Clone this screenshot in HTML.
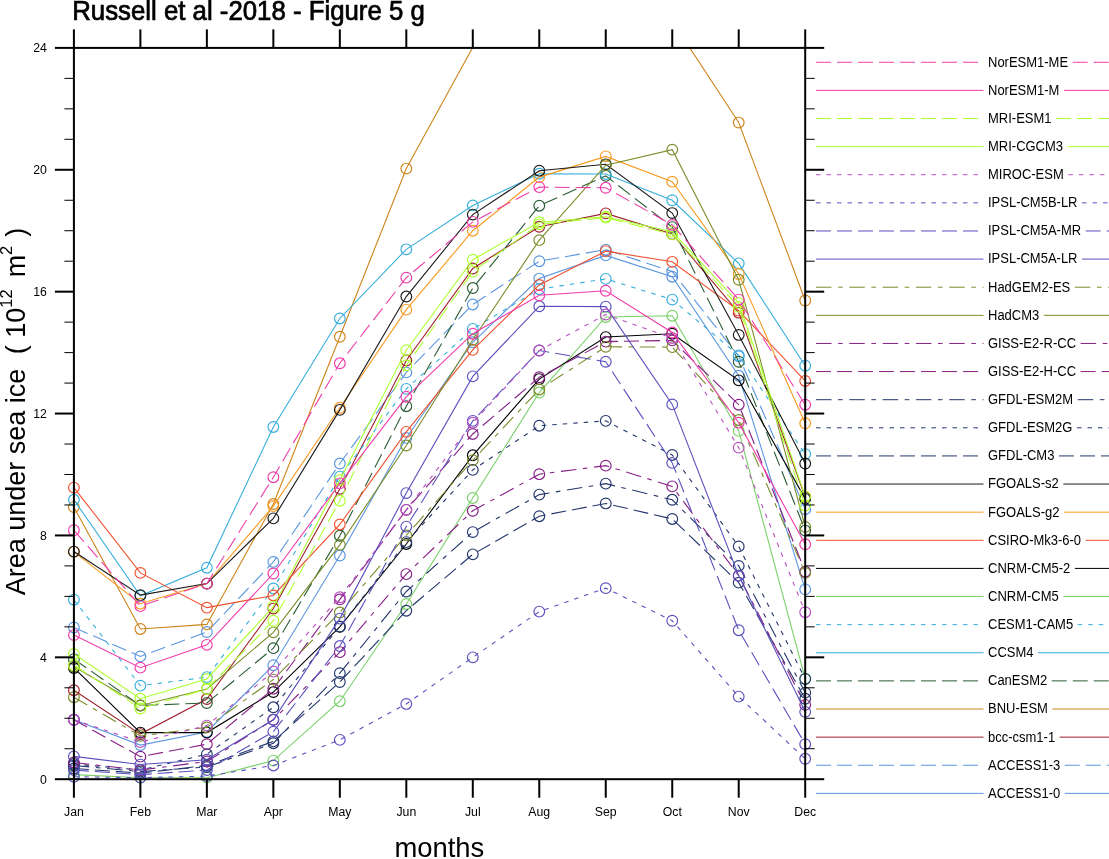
<!DOCTYPE html><html><head><meta charset="utf-8"><style>
html,body{margin:0;padding:0;background:#fff;}
body{width:1109px;height:859px;overflow:hidden;position:relative;font-family:"Liberation Sans",sans-serif;}
svg{position:absolute;left:0;top:0;will-change:transform;}
svg text{font-family:"Liberation Sans",sans-serif;}
</style></head><body>
<svg width="1109" height="859" viewBox="0 0 1109 859">
<defs><clipPath id="pc"><rect x="73.90" y="47.90" width="731.30" height="731.30"/></clipPath></defs>
<g fill="none" stroke-width="1.1" stroke-linejoin="miter">
<polyline clip-path="url(#pc)" points="73.90,719.78 140.38,745.07 206.86,731.97 273.35,665.24 339.83,555.54 406.31,437.93 472.79,342.25 539.27,278.56 605.75,255.41 672.24,276.74 738.72,375.77 805.20,589.37" stroke="#5A96E0"/>
<circle cx="73.90" cy="719.78" r="5.35" stroke-width="1.15" stroke="#5A96E0"/>
<circle cx="140.38" cy="745.07" r="5.35" stroke-width="1.15" stroke="#5A96E0"/>
<circle cx="206.86" cy="731.97" r="5.35" stroke-width="1.15" stroke="#5A96E0"/>
<circle cx="273.35" cy="665.24" r="5.35" stroke-width="1.15" stroke="#5A96E0"/>
<circle cx="339.83" cy="555.54" r="5.35" stroke-width="1.15" stroke="#5A96E0"/>
<circle cx="406.31" cy="437.93" r="5.35" stroke-width="1.15" stroke="#5A96E0"/>
<circle cx="472.79" cy="342.25" r="5.35" stroke-width="1.15" stroke="#5A96E0"/>
<circle cx="539.27" cy="278.56" r="5.35" stroke-width="1.15" stroke="#5A96E0"/>
<circle cx="605.75" cy="255.41" r="5.35" stroke-width="1.15" stroke="#5A96E0"/>
<circle cx="672.24" cy="276.74" r="5.35" stroke-width="1.15" stroke="#5A96E0"/>
<circle cx="738.72" cy="375.77" r="5.35" stroke-width="1.15" stroke="#5A96E0"/>
<circle cx="805.20" cy="589.37" r="5.35" stroke-width="1.15" stroke="#5A96E0"/>
<polyline clip-path="url(#pc)" points="73.90,627.46 140.38,656.40 206.86,632.03 273.35,561.94 339.83,463.52 406.31,372.41 472.79,304.46 539.27,261.20 605.75,249.62 672.24,271.56 738.72,356.26 805.20,509.23" stroke="#5A96E0" stroke-dasharray="15 6"/>
<circle cx="73.90" cy="627.46" r="5.35" stroke-width="1.15" stroke="#5A96E0"/>
<circle cx="140.38" cy="656.40" r="5.35" stroke-width="1.15" stroke="#5A96E0"/>
<circle cx="206.86" cy="632.03" r="5.35" stroke-width="1.15" stroke="#5A96E0"/>
<circle cx="273.35" cy="561.94" r="5.35" stroke-width="1.15" stroke="#5A96E0"/>
<circle cx="339.83" cy="463.52" r="5.35" stroke-width="1.15" stroke="#5A96E0"/>
<circle cx="406.31" cy="372.41" r="5.35" stroke-width="1.15" stroke="#5A96E0"/>
<circle cx="472.79" cy="304.46" r="5.35" stroke-width="1.15" stroke="#5A96E0"/>
<circle cx="539.27" cy="261.20" r="5.35" stroke-width="1.15" stroke="#5A96E0"/>
<circle cx="605.75" cy="249.62" r="5.35" stroke-width="1.15" stroke="#5A96E0"/>
<circle cx="672.24" cy="271.56" r="5.35" stroke-width="1.15" stroke="#5A96E0"/>
<circle cx="738.72" cy="356.26" r="5.35" stroke-width="1.15" stroke="#5A96E0"/>
<circle cx="805.20" cy="509.23" r="5.35" stroke-width="1.15" stroke="#5A96E0"/>
<polyline clip-path="url(#pc)" points="73.90,690.23 140.38,734.10 206.86,699.06 273.35,608.56 339.83,488.81 406.31,360.53 472.79,268.51 539.27,226.76 605.75,213.36 672.24,234.08 738.72,312.69 805.20,497.04" stroke="#A01E2D"/>
<circle cx="73.90" cy="690.23" r="5.35" stroke-width="1.15" stroke="#A01E2D"/>
<circle cx="140.38" cy="734.10" r="5.35" stroke-width="1.15" stroke="#A01E2D"/>
<circle cx="206.86" cy="699.06" r="5.35" stroke-width="1.15" stroke="#A01E2D"/>
<circle cx="273.35" cy="608.56" r="5.35" stroke-width="1.15" stroke="#A01E2D"/>
<circle cx="339.83" cy="488.81" r="5.35" stroke-width="1.15" stroke="#A01E2D"/>
<circle cx="406.31" cy="360.53" r="5.35" stroke-width="1.15" stroke="#A01E2D"/>
<circle cx="472.79" cy="268.51" r="5.35" stroke-width="1.15" stroke="#A01E2D"/>
<circle cx="539.27" cy="226.76" r="5.35" stroke-width="1.15" stroke="#A01E2D"/>
<circle cx="605.75" cy="213.36" r="5.35" stroke-width="1.15" stroke="#A01E2D"/>
<circle cx="672.24" cy="234.08" r="5.35" stroke-width="1.15" stroke="#A01E2D"/>
<circle cx="738.72" cy="312.69" r="5.35" stroke-width="1.15" stroke="#A01E2D"/>
<circle cx="805.20" cy="497.04" r="5.35" stroke-width="1.15" stroke="#A01E2D"/>
<polyline clip-path="url(#pc)" points="73.90,507.10 140.38,628.98 206.86,624.41 273.35,504.05 339.83,336.76 406.31,168.56 472.79,47.29 539.27,-13.04 605.75,-28.28 672.24,21.09 738.72,122.55 805.20,300.50" stroke="#CD841A"/>
<circle cx="73.90" cy="507.10" r="5.35" stroke-width="1.15" stroke="#CD841A"/>
<circle cx="140.38" cy="628.98" r="5.35" stroke-width="1.15" stroke="#CD841A"/>
<circle cx="206.86" cy="624.41" r="5.35" stroke-width="1.15" stroke="#CD841A"/>
<circle cx="273.35" cy="504.05" r="5.35" stroke-width="1.15" stroke="#CD841A"/>
<circle cx="339.83" cy="336.76" r="5.35" stroke-width="1.15" stroke="#CD841A"/>
<circle cx="406.31" cy="168.56" r="5.35" stroke-width="1.15" stroke="#CD841A"/>
<circle cx="738.72" cy="122.55" r="5.35" stroke-width="1.15" stroke="#CD841A"/>
<circle cx="805.20" cy="300.50" r="5.35" stroke-width="1.15" stroke="#CD841A"/>
<polyline clip-path="url(#pc)" points="73.90,659.14 140.38,705.46 206.86,703.02 273.35,648.18 339.83,535.74 406.31,406.24 472.79,288.01 539.27,205.74 605.75,175.88 672.24,227.07 738.72,361.75 805.20,530.56" stroke="#2A5C34" stroke-dasharray="15 6"/>
<circle cx="73.90" cy="659.14" r="5.35" stroke-width="1.15" stroke="#2A5C34"/>
<circle cx="140.38" cy="705.46" r="5.35" stroke-width="1.15" stroke="#2A5C34"/>
<circle cx="206.86" cy="703.02" r="5.35" stroke-width="1.15" stroke="#2A5C34"/>
<circle cx="273.35" cy="648.18" r="5.35" stroke-width="1.15" stroke="#2A5C34"/>
<circle cx="339.83" cy="535.74" r="5.35" stroke-width="1.15" stroke="#2A5C34"/>
<circle cx="406.31" cy="406.24" r="5.35" stroke-width="1.15" stroke="#2A5C34"/>
<circle cx="472.79" cy="288.01" r="5.35" stroke-width="1.15" stroke="#2A5C34"/>
<circle cx="539.27" cy="205.74" r="5.35" stroke-width="1.15" stroke="#2A5C34"/>
<circle cx="605.75" cy="175.88" r="5.35" stroke-width="1.15" stroke="#2A5C34"/>
<circle cx="672.24" cy="227.07" r="5.35" stroke-width="1.15" stroke="#2A5C34"/>
<circle cx="738.72" cy="361.75" r="5.35" stroke-width="1.15" stroke="#2A5C34"/>
<circle cx="805.20" cy="530.56" r="5.35" stroke-width="1.15" stroke="#2A5C34"/>
<polyline clip-path="url(#pc)" points="73.90,499.78 140.38,595.77 206.86,567.73 273.35,426.96 339.83,318.48 406.31,249.31 472.79,205.43 539.27,173.74 605.75,174.05 672.24,200.25 738.72,263.33 805.20,365.71" stroke="#36AEDB"/>
<circle cx="73.90" cy="499.78" r="5.35" stroke-width="1.15" stroke="#36AEDB"/>
<circle cx="140.38" cy="595.77" r="5.35" stroke-width="1.15" stroke="#36AEDB"/>
<circle cx="206.86" cy="567.73" r="5.35" stroke-width="1.15" stroke="#36AEDB"/>
<circle cx="273.35" cy="426.96" r="5.35" stroke-width="1.15" stroke="#36AEDB"/>
<circle cx="339.83" cy="318.48" r="5.35" stroke-width="1.15" stroke="#36AEDB"/>
<circle cx="406.31" cy="249.31" r="5.35" stroke-width="1.15" stroke="#36AEDB"/>
<circle cx="472.79" cy="205.43" r="5.35" stroke-width="1.15" stroke="#36AEDB"/>
<circle cx="539.27" cy="173.74" r="5.35" stroke-width="1.15" stroke="#36AEDB"/>
<circle cx="605.75" cy="174.05" r="5.35" stroke-width="1.15" stroke="#36AEDB"/>
<circle cx="672.24" cy="200.25" r="5.35" stroke-width="1.15" stroke="#36AEDB"/>
<circle cx="738.72" cy="263.33" r="5.35" stroke-width="1.15" stroke="#36AEDB"/>
<circle cx="805.20" cy="365.71" r="5.35" stroke-width="1.15" stroke="#36AEDB"/>
<polyline clip-path="url(#pc)" points="73.90,599.73 140.38,685.65 206.86,677.12 273.35,588.45 339.83,476.62 406.31,388.87 472.79,328.84 539.27,289.23 605.75,278.87 672.24,299.59 738.72,355.35 805.20,454.08" stroke="#36AEDB" stroke-dasharray="4.5 6"/>
<circle cx="73.90" cy="599.73" r="5.35" stroke-width="1.15" stroke="#36AEDB"/>
<circle cx="140.38" cy="685.65" r="5.35" stroke-width="1.15" stroke="#36AEDB"/>
<circle cx="206.86" cy="677.12" r="5.35" stroke-width="1.15" stroke="#36AEDB"/>
<circle cx="273.35" cy="588.45" r="5.35" stroke-width="1.15" stroke="#36AEDB"/>
<circle cx="339.83" cy="476.62" r="5.35" stroke-width="1.15" stroke="#36AEDB"/>
<circle cx="406.31" cy="388.87" r="5.35" stroke-width="1.15" stroke="#36AEDB"/>
<circle cx="472.79" cy="328.84" r="5.35" stroke-width="1.15" stroke="#36AEDB"/>
<circle cx="539.27" cy="289.23" r="5.35" stroke-width="1.15" stroke="#36AEDB"/>
<circle cx="605.75" cy="278.87" r="5.35" stroke-width="1.15" stroke="#36AEDB"/>
<circle cx="672.24" cy="299.59" r="5.35" stroke-width="1.15" stroke="#36AEDB"/>
<circle cx="738.72" cy="355.35" r="5.35" stroke-width="1.15" stroke="#36AEDB"/>
<circle cx="805.20" cy="454.08" r="5.35" stroke-width="1.15" stroke="#36AEDB"/>
<polyline clip-path="url(#pc)" points="73.90,774.63 140.38,777.68 206.86,777.68 273.35,760.61 339.83,701.19 406.31,603.99 472.79,497.95 539.27,392.53 605.75,316.96 672.24,315.74 738.72,430.92 805.20,678.65" stroke="#7AD16A"/>
<circle cx="73.90" cy="774.63" r="5.35" stroke-width="1.15" stroke="#7AD16A"/>
<circle cx="140.38" cy="777.68" r="5.35" stroke-width="1.15" stroke="#7AD16A"/>
<circle cx="206.86" cy="777.68" r="5.35" stroke-width="1.15" stroke="#7AD16A"/>
<circle cx="273.35" cy="760.61" r="5.35" stroke-width="1.15" stroke="#7AD16A"/>
<circle cx="339.83" cy="701.19" r="5.35" stroke-width="1.15" stroke="#7AD16A"/>
<circle cx="406.31" cy="603.99" r="5.35" stroke-width="1.15" stroke="#7AD16A"/>
<circle cx="472.79" cy="497.95" r="5.35" stroke-width="1.15" stroke="#7AD16A"/>
<circle cx="539.27" cy="392.53" r="5.35" stroke-width="1.15" stroke="#7AD16A"/>
<circle cx="605.75" cy="316.96" r="5.35" stroke-width="1.15" stroke="#7AD16A"/>
<circle cx="672.24" cy="315.74" r="5.35" stroke-width="1.15" stroke="#7AD16A"/>
<circle cx="738.72" cy="430.92" r="5.35" stroke-width="1.15" stroke="#7AD16A"/>
<circle cx="805.20" cy="678.65" r="5.35" stroke-width="1.15" stroke="#7AD16A"/>
<polyline clip-path="url(#pc)" points="73.90,667.98 140.38,732.58 206.86,732.58 273.35,692.05 339.83,626.85 406.31,543.97 472.79,455.30 539.27,379.12 605.75,337.07 672.24,333.72 738.72,380.34 805.20,498.87" stroke="#000000"/>
<circle cx="73.90" cy="667.98" r="5.35" stroke-width="1.15" stroke="#000000"/>
<circle cx="140.38" cy="732.58" r="5.35" stroke-width="1.15" stroke="#000000"/>
<circle cx="206.86" cy="732.58" r="5.35" stroke-width="1.15" stroke="#000000"/>
<circle cx="273.35" cy="692.05" r="5.35" stroke-width="1.15" stroke="#000000"/>
<circle cx="339.83" cy="626.85" r="5.35" stroke-width="1.15" stroke="#000000"/>
<circle cx="406.31" cy="543.97" r="5.35" stroke-width="1.15" stroke="#000000"/>
<circle cx="472.79" cy="455.30" r="5.35" stroke-width="1.15" stroke="#000000"/>
<circle cx="539.27" cy="379.12" r="5.35" stroke-width="1.15" stroke="#000000"/>
<circle cx="605.75" cy="337.07" r="5.35" stroke-width="1.15" stroke="#000000"/>
<circle cx="672.24" cy="333.72" r="5.35" stroke-width="1.15" stroke="#000000"/>
<circle cx="738.72" cy="380.34" r="5.35" stroke-width="1.15" stroke="#000000"/>
<circle cx="805.20" cy="498.87" r="5.35" stroke-width="1.15" stroke="#000000"/>
<polyline clip-path="url(#pc)" points="73.90,487.59 140.38,572.91 206.86,607.65 273.35,595.46 339.83,524.46 406.31,431.83 472.79,349.87 539.27,284.96 605.75,251.14 672.24,261.81 738.72,310.56 805.20,380.95" stroke="#F0502D"/>
<circle cx="73.90" cy="487.59" r="5.35" stroke-width="1.15" stroke="#F0502D"/>
<circle cx="140.38" cy="572.91" r="5.35" stroke-width="1.15" stroke="#F0502D"/>
<circle cx="206.86" cy="607.65" r="5.35" stroke-width="1.15" stroke="#F0502D"/>
<circle cx="273.35" cy="595.46" r="5.35" stroke-width="1.15" stroke="#F0502D"/>
<circle cx="339.83" cy="524.46" r="5.35" stroke-width="1.15" stroke="#F0502D"/>
<circle cx="406.31" cy="431.83" r="5.35" stroke-width="1.15" stroke="#F0502D"/>
<circle cx="472.79" cy="349.87" r="5.35" stroke-width="1.15" stroke="#F0502D"/>
<circle cx="539.27" cy="284.96" r="5.35" stroke-width="1.15" stroke="#F0502D"/>
<circle cx="605.75" cy="251.14" r="5.35" stroke-width="1.15" stroke="#F0502D"/>
<circle cx="672.24" cy="261.81" r="5.35" stroke-width="1.15" stroke="#F0502D"/>
<circle cx="738.72" cy="310.56" r="5.35" stroke-width="1.15" stroke="#F0502D"/>
<circle cx="805.20" cy="380.95" r="5.35" stroke-width="1.15" stroke="#F0502D"/>
<polyline clip-path="url(#pc)" points="73.90,551.89 140.38,603.69 206.86,583.58 273.35,506.18 339.83,407.76 406.31,309.64 472.79,230.73 539.27,177.10 605.75,156.38 672.24,181.67 738.72,273.99 805.20,423.30" stroke="#F99A20"/>
<circle cx="73.90" cy="551.89" r="5.35" stroke-width="1.15" stroke="#F99A20"/>
<circle cx="140.38" cy="603.69" r="5.35" stroke-width="1.15" stroke="#F99A20"/>
<circle cx="206.86" cy="583.58" r="5.35" stroke-width="1.15" stroke="#F99A20"/>
<circle cx="273.35" cy="506.18" r="5.35" stroke-width="1.15" stroke="#F99A20"/>
<circle cx="339.83" cy="407.76" r="5.35" stroke-width="1.15" stroke="#F99A20"/>
<circle cx="406.31" cy="309.64" r="5.35" stroke-width="1.15" stroke="#F99A20"/>
<circle cx="472.79" cy="230.73" r="5.35" stroke-width="1.15" stroke="#F99A20"/>
<circle cx="539.27" cy="177.10" r="5.35" stroke-width="1.15" stroke="#F99A20"/>
<circle cx="605.75" cy="156.38" r="5.35" stroke-width="1.15" stroke="#F99A20"/>
<circle cx="672.24" cy="181.67" r="5.35" stroke-width="1.15" stroke="#F99A20"/>
<circle cx="738.72" cy="273.99" r="5.35" stroke-width="1.15" stroke="#F99A20"/>
<circle cx="805.20" cy="423.30" r="5.35" stroke-width="1.15" stroke="#F99A20"/>
<polyline clip-path="url(#pc)" points="73.90,551.58 140.38,595.16 206.86,583.58 273.35,518.37 339.83,409.89 406.31,296.54 472.79,214.58 539.27,170.70 605.75,164.30 672.24,213.05 738.72,334.94 805.20,463.52" stroke="#1A1A1A"/>
<circle cx="73.90" cy="551.58" r="5.35" stroke-width="1.15" stroke="#1A1A1A"/>
<circle cx="140.38" cy="595.16" r="5.35" stroke-width="1.15" stroke="#1A1A1A"/>
<circle cx="206.86" cy="583.58" r="5.35" stroke-width="1.15" stroke="#1A1A1A"/>
<circle cx="273.35" cy="518.37" r="5.35" stroke-width="1.15" stroke="#1A1A1A"/>
<circle cx="339.83" cy="409.89" r="5.35" stroke-width="1.15" stroke="#1A1A1A"/>
<circle cx="406.31" cy="296.54" r="5.35" stroke-width="1.15" stroke="#1A1A1A"/>
<circle cx="472.79" cy="214.58" r="5.35" stroke-width="1.15" stroke="#1A1A1A"/>
<circle cx="539.27" cy="170.70" r="5.35" stroke-width="1.15" stroke="#1A1A1A"/>
<circle cx="605.75" cy="164.30" r="5.35" stroke-width="1.15" stroke="#1A1A1A"/>
<circle cx="672.24" cy="213.05" r="5.35" stroke-width="1.15" stroke="#1A1A1A"/>
<circle cx="738.72" cy="334.94" r="5.35" stroke-width="1.15" stroke="#1A1A1A"/>
<circle cx="805.20" cy="463.52" r="5.35" stroke-width="1.15" stroke="#1A1A1A"/>
<polyline clip-path="url(#pc)" points="73.90,768.54 140.38,773.11 206.86,765.49 273.35,741.42 339.83,682.00 406.31,610.70 472.79,554.33 539.27,516.24 605.75,503.44 672.24,518.98 738.72,582.66 805.20,698.76" stroke="#23366D" stroke-dasharray="15 6"/>
<circle cx="73.90" cy="768.54" r="5.35" stroke-width="1.15" stroke="#23366D"/>
<circle cx="140.38" cy="773.11" r="5.35" stroke-width="1.15" stroke="#23366D"/>
<circle cx="206.86" cy="765.49" r="5.35" stroke-width="1.15" stroke="#23366D"/>
<circle cx="273.35" cy="741.42" r="5.35" stroke-width="1.15" stroke="#23366D"/>
<circle cx="339.83" cy="682.00" r="5.35" stroke-width="1.15" stroke="#23366D"/>
<circle cx="406.31" cy="610.70" r="5.35" stroke-width="1.15" stroke="#23366D"/>
<circle cx="472.79" cy="554.33" r="5.35" stroke-width="1.15" stroke="#23366D"/>
<circle cx="539.27" cy="516.24" r="5.35" stroke-width="1.15" stroke="#23366D"/>
<circle cx="605.75" cy="503.44" r="5.35" stroke-width="1.15" stroke="#23366D"/>
<circle cx="672.24" cy="518.98" r="5.35" stroke-width="1.15" stroke="#23366D"/>
<circle cx="738.72" cy="582.66" r="5.35" stroke-width="1.15" stroke="#23366D"/>
<circle cx="805.20" cy="698.76" r="5.35" stroke-width="1.15" stroke="#23366D"/>
<polyline clip-path="url(#pc)" points="73.90,763.96 140.38,770.06 206.86,754.21 273.35,707.29 339.83,626.54 406.31,542.14 472.79,469.92 539.27,425.74 605.75,420.86 672.24,454.99 738.72,546.40 805.20,678.95" stroke="#23366D" stroke-dasharray="4.5 6"/>
<circle cx="73.90" cy="763.96" r="5.35" stroke-width="1.15" stroke="#23366D"/>
<circle cx="140.38" cy="770.06" r="5.35" stroke-width="1.15" stroke="#23366D"/>
<circle cx="206.86" cy="754.21" r="5.35" stroke-width="1.15" stroke="#23366D"/>
<circle cx="273.35" cy="707.29" r="5.35" stroke-width="1.15" stroke="#23366D"/>
<circle cx="339.83" cy="626.54" r="5.35" stroke-width="1.15" stroke="#23366D"/>
<circle cx="406.31" cy="542.14" r="5.35" stroke-width="1.15" stroke="#23366D"/>
<circle cx="472.79" cy="469.92" r="5.35" stroke-width="1.15" stroke="#23366D"/>
<circle cx="539.27" cy="425.74" r="5.35" stroke-width="1.15" stroke="#23366D"/>
<circle cx="605.75" cy="420.86" r="5.35" stroke-width="1.15" stroke="#23366D"/>
<circle cx="672.24" cy="454.99" r="5.35" stroke-width="1.15" stroke="#23366D"/>
<circle cx="738.72" cy="546.40" r="5.35" stroke-width="1.15" stroke="#23366D"/>
<circle cx="805.20" cy="678.95" r="5.35" stroke-width="1.15" stroke="#23366D"/>
<polyline clip-path="url(#pc)" points="73.90,765.49 140.38,771.58 206.86,767.01 273.35,743.24 339.83,673.16 406.31,591.50 472.79,532.08 539.27,494.60 605.75,483.63 672.24,499.78 738.72,565.90 805.20,692.66" stroke="#23366D" stroke-dasharray="15.5 6.6 4.6 6.6"/>
<circle cx="73.90" cy="765.49" r="5.35" stroke-width="1.15" stroke="#23366D"/>
<circle cx="140.38" cy="771.58" r="5.35" stroke-width="1.15" stroke="#23366D"/>
<circle cx="206.86" cy="767.01" r="5.35" stroke-width="1.15" stroke="#23366D"/>
<circle cx="273.35" cy="743.24" r="5.35" stroke-width="1.15" stroke="#23366D"/>
<circle cx="339.83" cy="673.16" r="5.35" stroke-width="1.15" stroke="#23366D"/>
<circle cx="406.31" cy="591.50" r="5.35" stroke-width="1.15" stroke="#23366D"/>
<circle cx="472.79" cy="532.08" r="5.35" stroke-width="1.15" stroke="#23366D"/>
<circle cx="539.27" cy="494.60" r="5.35" stroke-width="1.15" stroke="#23366D"/>
<circle cx="605.75" cy="483.63" r="5.35" stroke-width="1.15" stroke="#23366D"/>
<circle cx="672.24" cy="499.78" r="5.35" stroke-width="1.15" stroke="#23366D"/>
<circle cx="738.72" cy="565.90" r="5.35" stroke-width="1.15" stroke="#23366D"/>
<circle cx="805.20" cy="692.66" r="5.35" stroke-width="1.15" stroke="#23366D"/>
<polyline clip-path="url(#pc)" points="73.90,719.78 140.38,756.65 206.86,744.16 273.35,688.70 339.83,599.42 406.31,509.84 472.79,433.97 539.27,377.29 605.75,341.64 672.24,340.42 738.72,404.71 805.20,571.69" stroke="#861E86" stroke-dasharray="15 6"/>
<circle cx="73.90" cy="719.78" r="5.35" stroke-width="1.15" stroke="#861E86"/>
<circle cx="140.38" cy="756.65" r="5.35" stroke-width="1.15" stroke="#861E86"/>
<circle cx="206.86" cy="744.16" r="5.35" stroke-width="1.15" stroke="#861E86"/>
<circle cx="273.35" cy="688.70" r="5.35" stroke-width="1.15" stroke="#861E86"/>
<circle cx="339.83" cy="599.42" r="5.35" stroke-width="1.15" stroke="#861E86"/>
<circle cx="406.31" cy="509.84" r="5.35" stroke-width="1.15" stroke="#861E86"/>
<circle cx="472.79" cy="433.97" r="5.35" stroke-width="1.15" stroke="#861E86"/>
<circle cx="539.27" cy="377.29" r="5.35" stroke-width="1.15" stroke="#861E86"/>
<circle cx="605.75" cy="341.64" r="5.35" stroke-width="1.15" stroke="#861E86"/>
<circle cx="672.24" cy="340.42" r="5.35" stroke-width="1.15" stroke="#861E86"/>
<circle cx="738.72" cy="404.71" r="5.35" stroke-width="1.15" stroke="#861E86"/>
<circle cx="805.20" cy="571.69" r="5.35" stroke-width="1.15" stroke="#861E86"/>
<polyline clip-path="url(#pc)" points="73.90,762.44 140.38,770.06 206.86,761.53 273.35,719.78 339.83,652.14 406.31,574.13 472.79,510.75 539.27,474.19 605.75,465.66 672.24,486.38 738.72,575.65 805.20,704.85" stroke="#861E86" stroke-dasharray="15.5 6.6 4.6 6.6"/>
<circle cx="73.90" cy="762.44" r="5.35" stroke-width="1.15" stroke="#861E86"/>
<circle cx="140.38" cy="770.06" r="5.35" stroke-width="1.15" stroke="#861E86"/>
<circle cx="206.86" cy="761.53" r="5.35" stroke-width="1.15" stroke="#861E86"/>
<circle cx="273.35" cy="719.78" r="5.35" stroke-width="1.15" stroke="#861E86"/>
<circle cx="339.83" cy="652.14" r="5.35" stroke-width="1.15" stroke="#861E86"/>
<circle cx="406.31" cy="574.13" r="5.35" stroke-width="1.15" stroke="#861E86"/>
<circle cx="472.79" cy="510.75" r="5.35" stroke-width="1.15" stroke="#861E86"/>
<circle cx="539.27" cy="474.19" r="5.35" stroke-width="1.15" stroke="#861E86"/>
<circle cx="605.75" cy="465.66" r="5.35" stroke-width="1.15" stroke="#861E86"/>
<circle cx="672.24" cy="486.38" r="5.35" stroke-width="1.15" stroke="#861E86"/>
<circle cx="738.72" cy="575.65" r="5.35" stroke-width="1.15" stroke="#861E86"/>
<circle cx="805.20" cy="704.85" r="5.35" stroke-width="1.15" stroke="#861E86"/>
<polyline clip-path="url(#pc)" points="73.90,666.46 140.38,705.46 206.86,689.01 273.35,632.33 339.83,544.88 406.31,445.54 472.79,339.81 539.27,240.17 605.75,165.21 672.24,149.67 738.72,279.78 805.20,526.90" stroke="#7B8C2A"/>
<circle cx="73.90" cy="666.46" r="5.35" stroke-width="1.15" stroke="#7B8C2A"/>
<circle cx="140.38" cy="705.46" r="5.35" stroke-width="1.15" stroke="#7B8C2A"/>
<circle cx="206.86" cy="689.01" r="5.35" stroke-width="1.15" stroke="#7B8C2A"/>
<circle cx="273.35" cy="632.33" r="5.35" stroke-width="1.15" stroke="#7B8C2A"/>
<circle cx="339.83" cy="544.88" r="5.35" stroke-width="1.15" stroke="#7B8C2A"/>
<circle cx="406.31" cy="445.54" r="5.35" stroke-width="1.15" stroke="#7B8C2A"/>
<circle cx="472.79" cy="339.81" r="5.35" stroke-width="1.15" stroke="#7B8C2A"/>
<circle cx="539.27" cy="240.17" r="5.35" stroke-width="1.15" stroke="#7B8C2A"/>
<circle cx="605.75" cy="165.21" r="5.35" stroke-width="1.15" stroke="#7B8C2A"/>
<circle cx="672.24" cy="149.67" r="5.35" stroke-width="1.15" stroke="#7B8C2A"/>
<circle cx="738.72" cy="279.78" r="5.35" stroke-width="1.15" stroke="#7B8C2A"/>
<circle cx="805.20" cy="526.90" r="5.35" stroke-width="1.15" stroke="#7B8C2A"/>
<polyline clip-path="url(#pc)" points="73.90,697.23 140.38,735.93 206.86,727.40 273.35,679.56 339.83,612.52 406.31,535.43 472.79,460.17 539.27,389.48 605.75,346.82 672.24,347.12 738.72,419.95 805.20,572.91" stroke="#7B8C2A" stroke-dasharray="15.5 6.6 4.6 6.6"/>
<circle cx="73.90" cy="697.23" r="5.35" stroke-width="1.15" stroke="#7B8C2A"/>
<circle cx="140.38" cy="735.93" r="5.35" stroke-width="1.15" stroke="#7B8C2A"/>
<circle cx="206.86" cy="727.40" r="5.35" stroke-width="1.15" stroke="#7B8C2A"/>
<circle cx="273.35" cy="679.56" r="5.35" stroke-width="1.15" stroke="#7B8C2A"/>
<circle cx="339.83" cy="612.52" r="5.35" stroke-width="1.15" stroke="#7B8C2A"/>
<circle cx="406.31" cy="535.43" r="5.35" stroke-width="1.15" stroke="#7B8C2A"/>
<circle cx="472.79" cy="460.17" r="5.35" stroke-width="1.15" stroke="#7B8C2A"/>
<circle cx="539.27" cy="389.48" r="5.35" stroke-width="1.15" stroke="#7B8C2A"/>
<circle cx="605.75" cy="346.82" r="5.35" stroke-width="1.15" stroke="#7B8C2A"/>
<circle cx="672.24" cy="347.12" r="5.35" stroke-width="1.15" stroke="#7B8C2A"/>
<circle cx="738.72" cy="419.95" r="5.35" stroke-width="1.15" stroke="#7B8C2A"/>
<circle cx="805.20" cy="572.91" r="5.35" stroke-width="1.15" stroke="#7B8C2A"/>
<polyline clip-path="url(#pc)" points="73.90,756.35 140.38,764.57 206.86,759.70 273.35,719.78 339.83,618.62 406.31,493.08 472.79,376.38 539.27,306.29 605.75,306.60 672.24,404.41 738.72,575.65 805.20,711.86" stroke="#5A50BE"/>
<circle cx="73.90" cy="756.35" r="5.35" stroke-width="1.15" stroke="#5A50BE"/>
<circle cx="140.38" cy="764.57" r="5.35" stroke-width="1.15" stroke="#5A50BE"/>
<circle cx="206.86" cy="759.70" r="5.35" stroke-width="1.15" stroke="#5A50BE"/>
<circle cx="273.35" cy="719.78" r="5.35" stroke-width="1.15" stroke="#5A50BE"/>
<circle cx="339.83" cy="618.62" r="5.35" stroke-width="1.15" stroke="#5A50BE"/>
<circle cx="406.31" cy="493.08" r="5.35" stroke-width="1.15" stroke="#5A50BE"/>
<circle cx="472.79" cy="376.38" r="5.35" stroke-width="1.15" stroke="#5A50BE"/>
<circle cx="539.27" cy="306.29" r="5.35" stroke-width="1.15" stroke="#5A50BE"/>
<circle cx="605.75" cy="306.60" r="5.35" stroke-width="1.15" stroke="#5A50BE"/>
<circle cx="672.24" cy="404.41" r="5.35" stroke-width="1.15" stroke="#5A50BE"/>
<circle cx="738.72" cy="575.65" r="5.35" stroke-width="1.15" stroke="#5A50BE"/>
<circle cx="805.20" cy="711.86" r="5.35" stroke-width="1.15" stroke="#5A50BE"/>
<polyline clip-path="url(#pc)" points="73.90,770.06 140.38,774.63 206.86,770.06 273.35,731.67 339.83,646.04 406.31,526.60 472.79,420.86 539.27,350.48 605.75,361.75 672.24,462.91 738.72,630.20 805.20,744.16" stroke="#5A50BE" stroke-dasharray="15 6"/>
<circle cx="73.90" cy="770.06" r="5.35" stroke-width="1.15" stroke="#5A50BE"/>
<circle cx="140.38" cy="774.63" r="5.35" stroke-width="1.15" stroke="#5A50BE"/>
<circle cx="206.86" cy="770.06" r="5.35" stroke-width="1.15" stroke="#5A50BE"/>
<circle cx="273.35" cy="731.67" r="5.35" stroke-width="1.15" stroke="#5A50BE"/>
<circle cx="339.83" cy="646.04" r="5.35" stroke-width="1.15" stroke="#5A50BE"/>
<circle cx="406.31" cy="526.60" r="5.35" stroke-width="1.15" stroke="#5A50BE"/>
<circle cx="472.79" cy="420.86" r="5.35" stroke-width="1.15" stroke="#5A50BE"/>
<circle cx="539.27" cy="350.48" r="5.35" stroke-width="1.15" stroke="#5A50BE"/>
<circle cx="605.75" cy="361.75" r="5.35" stroke-width="1.15" stroke="#5A50BE"/>
<circle cx="672.24" cy="462.91" r="5.35" stroke-width="1.15" stroke="#5A50BE"/>
<circle cx="738.72" cy="630.20" r="5.35" stroke-width="1.15" stroke="#5A50BE"/>
<circle cx="805.20" cy="744.16" r="5.35" stroke-width="1.15" stroke="#5A50BE"/>
<polyline clip-path="url(#pc)" points="73.90,776.76 140.38,777.68 206.86,776.15 273.35,765.49 339.83,739.89 406.31,703.94 472.79,657.32 539.27,611.61 605.75,588.15 672.24,620.75 738.72,696.62 805.20,758.78" stroke="#5A50BE" stroke-dasharray="4.5 6"/>
<circle cx="73.90" cy="776.76" r="5.35" stroke-width="1.15" stroke="#5A50BE"/>
<circle cx="140.38" cy="777.68" r="5.35" stroke-width="1.15" stroke="#5A50BE"/>
<circle cx="206.86" cy="776.15" r="5.35" stroke-width="1.15" stroke="#5A50BE"/>
<circle cx="273.35" cy="765.49" r="5.35" stroke-width="1.15" stroke="#5A50BE"/>
<circle cx="339.83" cy="739.89" r="5.35" stroke-width="1.15" stroke="#5A50BE"/>
<circle cx="406.31" cy="703.94" r="5.35" stroke-width="1.15" stroke="#5A50BE"/>
<circle cx="472.79" cy="657.32" r="5.35" stroke-width="1.15" stroke="#5A50BE"/>
<circle cx="539.27" cy="611.61" r="5.35" stroke-width="1.15" stroke="#5A50BE"/>
<circle cx="605.75" cy="588.15" r="5.35" stroke-width="1.15" stroke="#5A50BE"/>
<circle cx="672.24" cy="620.75" r="5.35" stroke-width="1.15" stroke="#5A50BE"/>
<circle cx="738.72" cy="696.62" r="5.35" stroke-width="1.15" stroke="#5A50BE"/>
<circle cx="805.20" cy="758.78" r="5.35" stroke-width="1.15" stroke="#5A50BE"/>
<polyline clip-path="url(#pc)" points="73.90,719.78 140.38,742.03 206.86,725.57 273.35,671.64 339.83,597.29 406.31,509.84 472.79,422.69 539.27,350.48 605.75,314.52 672.24,337.98 738.72,447.68 805.20,612.22" stroke="#B84FC0" stroke-dasharray="4.5 6"/>
<circle cx="73.90" cy="719.78" r="5.35" stroke-width="1.15" stroke="#B84FC0"/>
<circle cx="140.38" cy="742.03" r="5.35" stroke-width="1.15" stroke="#B84FC0"/>
<circle cx="206.86" cy="725.57" r="5.35" stroke-width="1.15" stroke="#B84FC0"/>
<circle cx="273.35" cy="671.64" r="5.35" stroke-width="1.15" stroke="#B84FC0"/>
<circle cx="339.83" cy="597.29" r="5.35" stroke-width="1.15" stroke="#B84FC0"/>
<circle cx="406.31" cy="509.84" r="5.35" stroke-width="1.15" stroke="#B84FC0"/>
<circle cx="472.79" cy="422.69" r="5.35" stroke-width="1.15" stroke="#B84FC0"/>
<circle cx="539.27" cy="350.48" r="5.35" stroke-width="1.15" stroke="#B84FC0"/>
<circle cx="605.75" cy="314.52" r="5.35" stroke-width="1.15" stroke="#B84FC0"/>
<circle cx="672.24" cy="337.98" r="5.35" stroke-width="1.15" stroke="#B84FC0"/>
<circle cx="738.72" cy="447.68" r="5.35" stroke-width="1.15" stroke="#B84FC0"/>
<circle cx="805.20" cy="612.22" r="5.35" stroke-width="1.15" stroke="#B84FC0"/>
<polyline clip-path="url(#pc)" points="73.90,653.96 140.38,698.76 206.86,678.95 273.35,606.74 339.83,479.98 406.31,350.17 472.79,259.67 539.27,222.19 605.75,216.71 672.24,231.64 738.72,302.94 805.20,496.43" stroke="#ADFF2F"/>
<circle cx="73.90" cy="653.96" r="5.35" stroke-width="1.15" stroke="#ADFF2F"/>
<circle cx="140.38" cy="698.76" r="5.35" stroke-width="1.15" stroke="#ADFF2F"/>
<circle cx="206.86" cy="678.95" r="5.35" stroke-width="1.15" stroke="#ADFF2F"/>
<circle cx="273.35" cy="606.74" r="5.35" stroke-width="1.15" stroke="#ADFF2F"/>
<circle cx="339.83" cy="479.98" r="5.35" stroke-width="1.15" stroke="#ADFF2F"/>
<circle cx="406.31" cy="350.17" r="5.35" stroke-width="1.15" stroke="#ADFF2F"/>
<circle cx="472.79" cy="259.67" r="5.35" stroke-width="1.15" stroke="#ADFF2F"/>
<circle cx="539.27" cy="222.19" r="5.35" stroke-width="1.15" stroke="#ADFF2F"/>
<circle cx="605.75" cy="216.71" r="5.35" stroke-width="1.15" stroke="#ADFF2F"/>
<circle cx="672.24" cy="231.64" r="5.35" stroke-width="1.15" stroke="#ADFF2F"/>
<circle cx="738.72" cy="302.94" r="5.35" stroke-width="1.15" stroke="#ADFF2F"/>
<circle cx="805.20" cy="496.43" r="5.35" stroke-width="1.15" stroke="#ADFF2F"/>
<polyline clip-path="url(#pc)" points="73.90,665.24 140.38,708.51 206.86,689.01 273.35,620.75 339.83,500.70 406.31,365.41 472.79,271.56 539.27,224.33 605.75,217.62 672.24,234.38 738.72,306.90 805.20,505.57" stroke="#ADFF2F" stroke-dasharray="15 6"/>
<circle cx="73.90" cy="665.24" r="5.35" stroke-width="1.15" stroke="#ADFF2F"/>
<circle cx="140.38" cy="708.51" r="5.35" stroke-width="1.15" stroke="#ADFF2F"/>
<circle cx="206.86" cy="689.01" r="5.35" stroke-width="1.15" stroke="#ADFF2F"/>
<circle cx="273.35" cy="620.75" r="5.35" stroke-width="1.15" stroke="#ADFF2F"/>
<circle cx="339.83" cy="500.70" r="5.35" stroke-width="1.15" stroke="#ADFF2F"/>
<circle cx="406.31" cy="365.41" r="5.35" stroke-width="1.15" stroke="#ADFF2F"/>
<circle cx="472.79" cy="271.56" r="5.35" stroke-width="1.15" stroke="#ADFF2F"/>
<circle cx="539.27" cy="224.33" r="5.35" stroke-width="1.15" stroke="#ADFF2F"/>
<circle cx="605.75" cy="217.62" r="5.35" stroke-width="1.15" stroke="#ADFF2F"/>
<circle cx="672.24" cy="234.38" r="5.35" stroke-width="1.15" stroke="#ADFF2F"/>
<circle cx="738.72" cy="306.90" r="5.35" stroke-width="1.15" stroke="#ADFF2F"/>
<circle cx="805.20" cy="505.57" r="5.35" stroke-width="1.15" stroke="#ADFF2F"/>
<polyline clip-path="url(#pc)" points="73.90,635.07 140.38,667.68 206.86,644.82 273.35,573.52 339.83,483.33 406.31,396.79 472.79,333.72 539.27,295.32 605.75,290.75 672.24,332.50 738.72,422.69 805.20,544.27" stroke="#F03CAA"/>
<circle cx="73.90" cy="635.07" r="5.35" stroke-width="1.15" stroke="#F03CAA"/>
<circle cx="140.38" cy="667.68" r="5.35" stroke-width="1.15" stroke="#F03CAA"/>
<circle cx="206.86" cy="644.82" r="5.35" stroke-width="1.15" stroke="#F03CAA"/>
<circle cx="273.35" cy="573.52" r="5.35" stroke-width="1.15" stroke="#F03CAA"/>
<circle cx="339.83" cy="483.33" r="5.35" stroke-width="1.15" stroke="#F03CAA"/>
<circle cx="406.31" cy="396.79" r="5.35" stroke-width="1.15" stroke="#F03CAA"/>
<circle cx="472.79" cy="333.72" r="5.35" stroke-width="1.15" stroke="#F03CAA"/>
<circle cx="539.27" cy="295.32" r="5.35" stroke-width="1.15" stroke="#F03CAA"/>
<circle cx="605.75" cy="290.75" r="5.35" stroke-width="1.15" stroke="#F03CAA"/>
<circle cx="672.24" cy="332.50" r="5.35" stroke-width="1.15" stroke="#F03CAA"/>
<circle cx="738.72" cy="422.69" r="5.35" stroke-width="1.15" stroke="#F03CAA"/>
<circle cx="805.20" cy="544.27" r="5.35" stroke-width="1.15" stroke="#F03CAA"/>
<polyline clip-path="url(#pc)" points="73.90,530.25 140.38,606.13 206.86,583.58 273.35,477.23 339.83,363.27 406.31,277.65 472.79,221.89 539.27,187.15 605.75,187.76 672.24,224.94 738.72,299.59 805.20,404.71" stroke="#F03CAA" stroke-dasharray="15 6"/>
<circle cx="73.90" cy="530.25" r="5.35" stroke-width="1.15" stroke="#F03CAA"/>
<circle cx="140.38" cy="606.13" r="5.35" stroke-width="1.15" stroke="#F03CAA"/>
<circle cx="206.86" cy="583.58" r="5.35" stroke-width="1.15" stroke="#F03CAA"/>
<circle cx="273.35" cy="477.23" r="5.35" stroke-width="1.15" stroke="#F03CAA"/>
<circle cx="339.83" cy="363.27" r="5.35" stroke-width="1.15" stroke="#F03CAA"/>
<circle cx="406.31" cy="277.65" r="5.35" stroke-width="1.15" stroke="#F03CAA"/>
<circle cx="472.79" cy="221.89" r="5.35" stroke-width="1.15" stroke="#F03CAA"/>
<circle cx="539.27" cy="187.15" r="5.35" stroke-width="1.15" stroke="#F03CAA"/>
<circle cx="605.75" cy="187.76" r="5.35" stroke-width="1.15" stroke="#F03CAA"/>
<circle cx="672.24" cy="224.94" r="5.35" stroke-width="1.15" stroke="#F03CAA"/>
<circle cx="738.72" cy="299.59" r="5.35" stroke-width="1.15" stroke="#F03CAA"/>
<circle cx="805.20" cy="404.71" r="5.35" stroke-width="1.15" stroke="#F03CAA"/>
</g>
<g stroke="#000" fill="none">
<rect x="73.90" y="47.90" width="731.30" height="731.30" stroke-width="2"/>
<line x1="73.90" y1="47.90" x2="73.90" y2="29.40" stroke-width="2"/>
<line x1="73.90" y1="779.20" x2="73.90" y2="797.70" stroke-width="2"/>
<line x1="140.38" y1="47.90" x2="140.38" y2="29.40" stroke-width="2"/>
<line x1="140.38" y1="779.20" x2="140.38" y2="797.70" stroke-width="2"/>
<line x1="206.86" y1="47.90" x2="206.86" y2="29.40" stroke-width="2"/>
<line x1="206.86" y1="779.20" x2="206.86" y2="797.70" stroke-width="2"/>
<line x1="273.35" y1="47.90" x2="273.35" y2="29.40" stroke-width="2"/>
<line x1="273.35" y1="779.20" x2="273.35" y2="797.70" stroke-width="2"/>
<line x1="339.83" y1="47.90" x2="339.83" y2="29.40" stroke-width="2"/>
<line x1="339.83" y1="779.20" x2="339.83" y2="797.70" stroke-width="2"/>
<line x1="406.31" y1="47.90" x2="406.31" y2="29.40" stroke-width="2"/>
<line x1="406.31" y1="779.20" x2="406.31" y2="797.70" stroke-width="2"/>
<line x1="472.79" y1="47.90" x2="472.79" y2="29.40" stroke-width="2"/>
<line x1="472.79" y1="779.20" x2="472.79" y2="797.70" stroke-width="2"/>
<line x1="539.27" y1="47.90" x2="539.27" y2="29.40" stroke-width="2"/>
<line x1="539.27" y1="779.20" x2="539.27" y2="797.70" stroke-width="2"/>
<line x1="605.75" y1="47.90" x2="605.75" y2="29.40" stroke-width="2"/>
<line x1="605.75" y1="779.20" x2="605.75" y2="797.70" stroke-width="2"/>
<line x1="672.24" y1="47.90" x2="672.24" y2="29.40" stroke-width="2"/>
<line x1="672.24" y1="779.20" x2="672.24" y2="797.70" stroke-width="2"/>
<line x1="738.72" y1="47.90" x2="738.72" y2="29.40" stroke-width="2"/>
<line x1="738.72" y1="779.20" x2="738.72" y2="797.70" stroke-width="2"/>
<line x1="805.20" y1="47.90" x2="805.20" y2="29.40" stroke-width="2"/>
<line x1="805.20" y1="779.20" x2="805.20" y2="797.70" stroke-width="2"/>
<line x1="73.90" y1="779.20" x2="54.90" y2="779.20" stroke-width="2"/>
<line x1="805.20" y1="779.20" x2="824.20" y2="779.20" stroke-width="2"/>
<line x1="73.90" y1="748.73" x2="64.40" y2="748.73" stroke-width="1"/>
<line x1="805.20" y1="748.73" x2="814.70" y2="748.73" stroke-width="1"/>
<line x1="73.90" y1="718.26" x2="64.40" y2="718.26" stroke-width="1"/>
<line x1="805.20" y1="718.26" x2="814.70" y2="718.26" stroke-width="1"/>
<line x1="73.90" y1="687.79" x2="64.40" y2="687.79" stroke-width="1"/>
<line x1="805.20" y1="687.79" x2="814.70" y2="687.79" stroke-width="1"/>
<line x1="73.90" y1="657.32" x2="54.90" y2="657.32" stroke-width="2"/>
<line x1="805.20" y1="657.32" x2="824.20" y2="657.32" stroke-width="2"/>
<line x1="73.90" y1="626.85" x2="64.40" y2="626.85" stroke-width="1"/>
<line x1="805.20" y1="626.85" x2="814.70" y2="626.85" stroke-width="1"/>
<line x1="73.90" y1="596.38" x2="64.40" y2="596.38" stroke-width="1"/>
<line x1="805.20" y1="596.38" x2="814.70" y2="596.38" stroke-width="1"/>
<line x1="73.90" y1="565.90" x2="64.40" y2="565.90" stroke-width="1"/>
<line x1="805.20" y1="565.90" x2="814.70" y2="565.90" stroke-width="1"/>
<line x1="73.90" y1="535.43" x2="54.90" y2="535.43" stroke-width="2"/>
<line x1="805.20" y1="535.43" x2="824.20" y2="535.43" stroke-width="2"/>
<line x1="73.90" y1="504.96" x2="64.40" y2="504.96" stroke-width="1"/>
<line x1="805.20" y1="504.96" x2="814.70" y2="504.96" stroke-width="1"/>
<line x1="73.90" y1="474.49" x2="64.40" y2="474.49" stroke-width="1"/>
<line x1="805.20" y1="474.49" x2="814.70" y2="474.49" stroke-width="1"/>
<line x1="73.90" y1="444.02" x2="64.40" y2="444.02" stroke-width="1"/>
<line x1="805.20" y1="444.02" x2="814.70" y2="444.02" stroke-width="1"/>
<line x1="73.90" y1="413.55" x2="54.90" y2="413.55" stroke-width="2"/>
<line x1="805.20" y1="413.55" x2="824.20" y2="413.55" stroke-width="2"/>
<line x1="73.90" y1="383.08" x2="64.40" y2="383.08" stroke-width="1"/>
<line x1="805.20" y1="383.08" x2="814.70" y2="383.08" stroke-width="1"/>
<line x1="73.90" y1="352.61" x2="64.40" y2="352.61" stroke-width="1"/>
<line x1="805.20" y1="352.61" x2="814.70" y2="352.61" stroke-width="1"/>
<line x1="73.90" y1="322.14" x2="64.40" y2="322.14" stroke-width="1"/>
<line x1="805.20" y1="322.14" x2="814.70" y2="322.14" stroke-width="1"/>
<line x1="73.90" y1="291.67" x2="54.90" y2="291.67" stroke-width="2"/>
<line x1="805.20" y1="291.67" x2="824.20" y2="291.67" stroke-width="2"/>
<line x1="73.90" y1="261.20" x2="64.40" y2="261.20" stroke-width="1"/>
<line x1="805.20" y1="261.20" x2="814.70" y2="261.20" stroke-width="1"/>
<line x1="73.90" y1="230.73" x2="64.40" y2="230.73" stroke-width="1"/>
<line x1="805.20" y1="230.73" x2="814.70" y2="230.73" stroke-width="1"/>
<line x1="73.90" y1="200.25" x2="64.40" y2="200.25" stroke-width="1"/>
<line x1="805.20" y1="200.25" x2="814.70" y2="200.25" stroke-width="1"/>
<line x1="73.90" y1="169.78" x2="54.90" y2="169.78" stroke-width="2"/>
<line x1="805.20" y1="169.78" x2="824.20" y2="169.78" stroke-width="2"/>
<line x1="73.90" y1="139.31" x2="64.40" y2="139.31" stroke-width="1"/>
<line x1="805.20" y1="139.31" x2="814.70" y2="139.31" stroke-width="1"/>
<line x1="73.90" y1="108.84" x2="64.40" y2="108.84" stroke-width="1"/>
<line x1="805.20" y1="108.84" x2="814.70" y2="108.84" stroke-width="1"/>
<line x1="73.90" y1="78.37" x2="64.40" y2="78.37" stroke-width="1"/>
<line x1="805.20" y1="78.37" x2="814.70" y2="78.37" stroke-width="1"/>
<line x1="73.90" y1="47.90" x2="54.90" y2="47.90" stroke-width="2"/>
<line x1="805.20" y1="47.90" x2="824.20" y2="47.90" stroke-width="2"/>
</g>
<g font-size="12.3" fill="#000">
<text transform="translate(46.9,783.65) scale(1,1.06)" text-anchor="end">0</text>
<text transform="translate(46.9,661.77) scale(1,1.06)" text-anchor="end">4</text>
<text transform="translate(46.9,539.88) scale(1,1.06)" text-anchor="end">8</text>
<text transform="translate(46.9,418.00) scale(1,1.06)" text-anchor="end">12</text>
<text transform="translate(46.9,296.12) scale(1,1.06)" text-anchor="end">16</text>
<text transform="translate(46.9,174.23) scale(1,1.06)" text-anchor="end">20</text>
<text transform="translate(46.9,52.35) scale(1,1.06)" text-anchor="end">24</text>
<text transform="translate(73.90,815.8) scale(1,1.06)" text-anchor="middle">Jan</text>
<text transform="translate(140.38,815.8) scale(1,1.06)" text-anchor="middle">Feb</text>
<text transform="translate(206.86,815.8) scale(1,1.06)" text-anchor="middle">Mar</text>
<text transform="translate(273.35,815.8) scale(1,1.06)" text-anchor="middle">Apr</text>
<text transform="translate(339.83,815.8) scale(1,1.06)" text-anchor="middle">May</text>
<text transform="translate(406.31,815.8) scale(1,1.06)" text-anchor="middle">Jun</text>
<text transform="translate(472.79,815.8) scale(1,1.06)" text-anchor="middle">Jul</text>
<text transform="translate(539.27,815.8) scale(1,1.06)" text-anchor="middle">Aug</text>
<text transform="translate(605.75,815.8) scale(1,1.06)" text-anchor="middle">Sep</text>
<text transform="translate(672.24,815.8) scale(1,1.06)" text-anchor="middle">Oct</text>
<text transform="translate(738.72,815.8) scale(1,1.06)" text-anchor="middle">Nov</text>
<text transform="translate(805.20,815.8) scale(1,1.06)" text-anchor="middle">Dec</text>
</g>
<text transform="translate(72.2,19.9) scale(1,1.07)" font-size="25.8" stroke="#000" stroke-width="0.7">Russell et al -2018 - Figure 5 g</text>
<text x="439.3" y="857.3" text-anchor="middle" font-size="27.4">months</text>
<text transform="translate(25.10,595.35) rotate(-90) scale(1,1.040)" font-size="27.0">Area under sea ice</text>
<text transform="translate(25.10,354.37) rotate(-90) scale(1,1.040)" font-size="27.0">(</text>
<text transform="translate(25.10,337.76) rotate(-90) scale(1,1.040)" font-size="27.0">10</text>
<text transform="translate(11.80,307.66) rotate(-90) scale(1,1.000)" font-size="16.5">12</text>
<text transform="translate(25.10,277.30) rotate(-90) scale(1,1.040)" font-size="27.0">m</text>
<text transform="translate(11.80,254.93) rotate(-90) scale(1,1.000)" font-size="16.5">2</text>
<text transform="translate(25.10,236.76) rotate(-90) scale(1,1.040)" font-size="27.0">)</text>
<g font-size="13" fill="#000">
<text transform="translate(988,66.65) scale(1,1.08)">NorESM1-ME</text>
<text transform="translate(988,94.77) scale(1,1.08)">NorESM1-M</text>
<text transform="translate(988,122.89) scale(1,1.08)">MRI-ESM1</text>
<text transform="translate(988,151.01) scale(1,1.08)">MRI-CGCM3</text>
<text transform="translate(988,179.13) scale(1,1.08)">MIROC-ESM</text>
<text transform="translate(988,207.25) scale(1,1.08)">IPSL-CM5B-LR</text>
<text transform="translate(988,235.37) scale(1,1.08)">IPSL-CM5A-MR</text>
<text transform="translate(988,263.49) scale(1,1.08)">IPSL-CM5A-LR</text>
<text transform="translate(988,291.61) scale(1,1.08)">HadGEM2-ES</text>
<text transform="translate(988,319.73) scale(1,1.08)">HadCM3</text>
<text transform="translate(988,347.85) scale(1,1.08)">GISS-E2-R-CC</text>
<text transform="translate(988,375.97) scale(1,1.08)">GISS-E2-H-CC</text>
<text transform="translate(988,404.09) scale(1,1.08)">GFDL-ESM2M</text>
<text transform="translate(988,432.21) scale(1,1.08)">GFDL-ESM2G</text>
<text transform="translate(988,460.33) scale(1,1.08)">GFDL-CM3</text>
<text transform="translate(988,488.45) scale(1,1.08)">FGOALS-s2</text>
<text transform="translate(988,516.57) scale(1,1.08)">FGOALS-g2</text>
<text transform="translate(988,544.69) scale(1,1.08)">CSIRO-Mk3-6-0</text>
<text transform="translate(988,572.81) scale(1,1.08)">CNRM-CM5-2</text>
<text transform="translate(988,600.93) scale(1,1.08)">CNRM-CM5</text>
<text transform="translate(988,629.05) scale(1,1.08)">CESM1-CAM5</text>
<text transform="translate(988,657.17) scale(1,1.08)">CCSM4</text>
<text transform="translate(988,685.29) scale(1,1.08)">CanESM2</text>
<text transform="translate(988,713.41) scale(1,1.08)">BNU-ESM</text>
<text transform="translate(988,741.53) scale(1,1.08)">bcc-csm1-1</text>
<text transform="translate(988,769.65) scale(1,1.08)">ACCESS1-3</text>
<text transform="translate(988,797.77) scale(1,1.08)">ACCESS1-0</text>
</g>
<g fill="none" stroke-width="1">
<line x1="816" y1="62.25" x2="983.50" y2="62.25" stroke="#F03CAA" stroke-dasharray="15 6"/>
<line x1="1072.68" y1="62.25" x2="1120" y2="62.25" stroke="#F03CAA" stroke-dasharray="15 6"/>
<line x1="816" y1="90.37" x2="983.50" y2="90.37" stroke="#F03CAA"/>
<line x1="1064.01" y1="90.37" x2="1120" y2="90.37" stroke="#F03CAA"/>
<line x1="816" y1="118.49" x2="983.50" y2="118.49" stroke="#ADFF2F" stroke-dasharray="15 6"/>
<line x1="1056.06" y1="118.49" x2="1120" y2="118.49" stroke="#ADFF2F" stroke-dasharray="15 6"/>
<line x1="816" y1="146.61" x2="983.50" y2="146.61" stroke="#ADFF2F"/>
<line x1="1067.61" y1="146.61" x2="1120" y2="146.61" stroke="#ADFF2F"/>
<line x1="816" y1="174.73" x2="983.50" y2="174.73" stroke="#B84FC0" stroke-dasharray="4.5 6"/>
<line x1="1068.33" y1="174.73" x2="1120" y2="174.73" stroke="#B84FC0" stroke-dasharray="4.5 6"/>
<line x1="816" y1="202.85" x2="983.50" y2="202.85" stroke="#5A50BE" stroke-dasharray="4.5 6"/>
<line x1="1082.08" y1="202.85" x2="1120" y2="202.85" stroke="#5A50BE" stroke-dasharray="4.5 6"/>
<line x1="816" y1="230.97" x2="983.50" y2="230.97" stroke="#5A50BE" stroke-dasharray="15 6"/>
<line x1="1085.68" y1="230.97" x2="1120" y2="230.97" stroke="#5A50BE" stroke-dasharray="15 6"/>
<line x1="816" y1="259.09" x2="983.50" y2="259.09" stroke="#5A50BE"/>
<line x1="1082.08" y1="259.09" x2="1120" y2="259.09" stroke="#5A50BE"/>
<line x1="816" y1="287.21" x2="983.50" y2="287.21" stroke="#7B8C2A" stroke-dasharray="15.5 6.6 4.6 6.6"/>
<line x1="1074.86" y1="287.21" x2="1120" y2="287.21" stroke="#7B8C2A" stroke-dasharray="15.5 6.6 4.6 6.6"/>
<line x1="816" y1="315.33" x2="983.50" y2="315.33" stroke="#7B8C2A"/>
<line x1="1043.80" y1="315.33" x2="1120" y2="315.33" stroke="#7B8C2A"/>
<line x1="816" y1="343.45" x2="983.50" y2="343.45" stroke="#861E86" stroke-dasharray="15.5 6.6 4.6 6.6"/>
<line x1="1080.62" y1="343.45" x2="1120" y2="343.45" stroke="#861E86" stroke-dasharray="15.5 6.6 4.6 6.6"/>
<line x1="816" y1="371.57" x2="983.50" y2="371.57" stroke="#861E86" stroke-dasharray="15 6"/>
<line x1="1080.62" y1="371.57" x2="1120" y2="371.57" stroke="#861E86" stroke-dasharray="15 6"/>
<line x1="816" y1="399.69" x2="983.50" y2="399.69" stroke="#23366D" stroke-dasharray="15.5 6.6 4.6 6.6"/>
<line x1="1077.73" y1="399.69" x2="1120" y2="399.69" stroke="#23366D" stroke-dasharray="15.5 6.6 4.6 6.6"/>
<line x1="816" y1="427.81" x2="983.50" y2="427.81" stroke="#23366D" stroke-dasharray="4.5 6"/>
<line x1="1077.01" y1="427.81" x2="1120" y2="427.81" stroke="#23366D" stroke-dasharray="4.5 6"/>
<line x1="816" y1="455.93" x2="983.50" y2="455.93" stroke="#23366D" stroke-dasharray="15 6"/>
<line x1="1058.95" y1="455.93" x2="1120" y2="455.93" stroke="#23366D" stroke-dasharray="15 6"/>
<line x1="816" y1="484.05" x2="983.50" y2="484.05" stroke="#1A1A1A"/>
<line x1="1063.30" y1="484.05" x2="1120" y2="484.05" stroke="#1A1A1A"/>
<line x1="816" y1="512.17" x2="983.50" y2="512.17" stroke="#F99A20"/>
<line x1="1064.03" y1="512.17" x2="1120" y2="512.17" stroke="#F99A20"/>
<line x1="816" y1="540.29" x2="983.50" y2="540.29" stroke="#F0502D"/>
<line x1="1085.68" y1="540.29" x2="1120" y2="540.29" stroke="#F0502D"/>
<line x1="816" y1="568.41" x2="983.50" y2="568.41" stroke="#000000"/>
<line x1="1074.83" y1="568.41" x2="1120" y2="568.41" stroke="#000000"/>
<line x1="816" y1="596.53" x2="983.50" y2="596.53" stroke="#7AD16A"/>
<line x1="1063.27" y1="596.53" x2="1120" y2="596.53" stroke="#7AD16A"/>
<line x1="816" y1="624.65" x2="983.50" y2="624.65" stroke="#36AEDB" stroke-dasharray="4.5 6"/>
<line x1="1077.74" y1="624.65" x2="1120" y2="624.65" stroke="#36AEDB" stroke-dasharray="4.5 6"/>
<line x1="816" y1="652.77" x2="983.50" y2="652.77" stroke="#36AEDB"/>
<line x1="1038.01" y1="652.77" x2="1120" y2="652.77" stroke="#36AEDB"/>
<line x1="816" y1="680.89" x2="983.50" y2="680.89" stroke="#2A5C34" stroke-dasharray="15 6"/>
<line x1="1051.75" y1="680.89" x2="1120" y2="680.89" stroke="#2A5C34" stroke-dasharray="15 6"/>
<line x1="816" y1="709.01" x2="983.50" y2="709.01" stroke="#CD841A"/>
<line x1="1052.45" y1="709.01" x2="1120" y2="709.01" stroke="#CD841A"/>
<line x1="816" y1="737.13" x2="983.50" y2="737.13" stroke="#A01E2D"/>
<line x1="1059.68" y1="737.13" x2="1120" y2="737.13" stroke="#A01E2D"/>
<line x1="816" y1="765.25" x2="983.50" y2="765.25" stroke="#5A96E0" stroke-dasharray="15 6"/>
<line x1="1064.75" y1="765.25" x2="1120" y2="765.25" stroke="#5A96E0" stroke-dasharray="15 6"/>
<line x1="816" y1="793.37" x2="983.50" y2="793.37" stroke="#5A96E0"/>
<line x1="1064.75" y1="793.37" x2="1120" y2="793.37" stroke="#5A96E0"/>
</g>
</svg>
</body></html>
